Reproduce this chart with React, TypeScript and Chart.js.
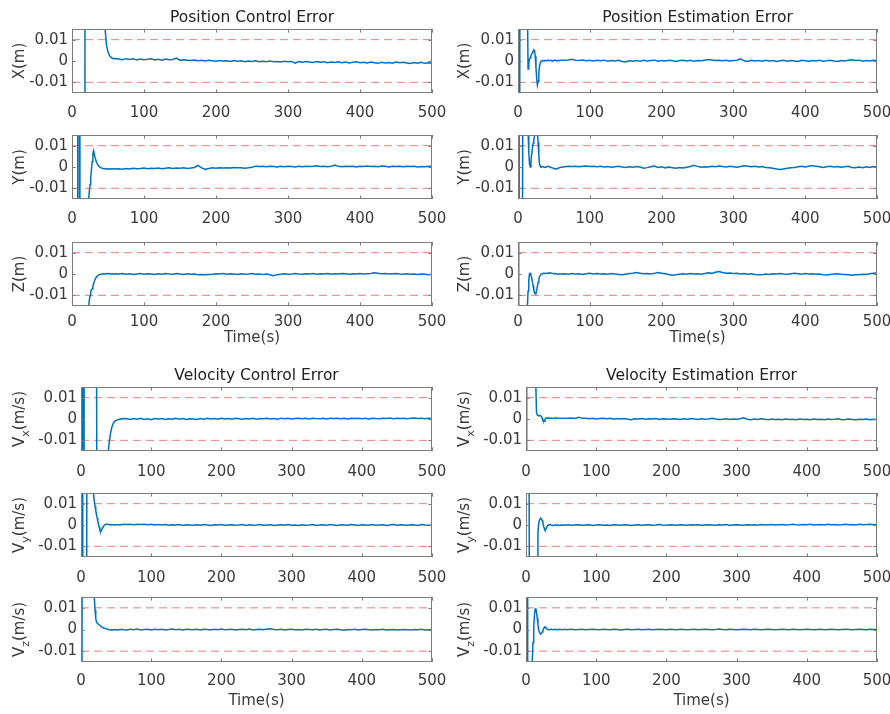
import React, { useEffect, useRef } from "react";
import { Chart, registerables } from "chart.js";

Chart.register(...registerables);

// ---------------- data ----------------
const TIME = [
  0, 1, 2, 3, 4, 5, 6, 7, 8, 9,
  10, 11, 12, 13, 14, 15, 16, 17, 18, 19,
  20, 21, 22, 23, 24, 25, 26, 27, 28, 29, 30,
  32, 34, 36, 38, 40, 42, 44, 46, 48, 50, 52, 54, 56, 58, 60,
  65, 70, 75, 80, 85, 90, 95, 100, 105, 110,
  115, 120, 125, 130, 135, 140, 145, 150, 155, 160,
  165, 170, 175, 180, 185, 190, 195, 200, 205, 210,
  215, 220, 225, 230, 235, 240, 245, 250, 255, 260,
  265, 270, 275, 280, 285, 290, 295, 300, 305, 310,
  315, 320, 325, 330, 335, 340, 345, 350, 355, 360,
  365, 370, 375, 380, 385, 390, 395, 400, 405, 410,
  415, 420, 425, 430, 435, 440, 445, 450, 455, 460,
  465, 470, 475, 480, 485, 490, 495, 500,
];

const X_TICKS = [0, 100, 200, 300, 400, 500];
const Y_TICKS = [-0.01, 0, 0.01];
const LIMIT_TIMES = [0, 500];
const UPPER_LIMIT = [0.01, 0.01];
const LOWER_LIMIT = [-0.01, -0.01];

const POS_CTRL_X = [
  -0.25, -0.22, -0.2, -0.18, -0.16, -0.14, -0.12, -0.1, -0.09, -0.08,
  -0.07, -0.06, -0.05, -0.04, -0.035, -0.03, -0.025, -0.02, 0.12, 0.11,
  0.1, 0.095, 0.09, 0.085, 0.08, 0.075, 0.07, 0.065, 0.06, 0.055, 0.05,
  0.045, 0.04, 0.036, 0.032, 0.028, 0.024, 0.02, 0.0148, 0.0072, 0.0042, 0.0026, 0.0018, 0.0013, 0.0011, 0.0012,
  0.0009, 0.0006, 0.0011, 0.0007, 0.001, 0.0005, 0.0009, 0.0006, 0.0008, 0.001,
  0.0005, 0.0008, 0.0004, 0.0009, 0.0006, 0.0007, 0.0014, 0.0003, 0.0006, 0.0004,
  0.0002, 0.0005, 0.0001, 0.0004, 0.0, 0.0003, 0.0001, -0.0001, 0.0002, 0.0,
  0.0001, -0.0002, 0.0002, -0.0001, 0.0001, -0.0003, 0.0, -0.0002, 0.0001, -0.0003,
  -0.0001, -0.0004, 0.0, -0.0003, -0.0002, -0.0005, -0.0001, -0.0004, -0.0002, -0.001,
  -0.0003, -0.0006, -0.0002, -0.0005, -0.0007, -0.0003, -0.0006, -0.0004, -0.0008, -0.0005,
  -0.0007, -0.0004, -0.0008, -0.0005, -0.0009, -0.0006, -0.0004, -0.0008, -0.0006, -0.0009,
  -0.0005, -0.0008, -0.0011, -0.0006, -0.0009, -0.0007, -0.001, -0.0005, -0.0008, -0.0006,
  -0.0009, -0.0012, -0.0007, -0.001, -0.0006, -0.0011, -0.0008, -0.001,
];

const POS_EST_X = [
  -0.3, 0.3, -0.2, 0.2, 0.18, 0.15, 0.12, 0.1, 0.08, 0.065,
  0.05, 0.04, 0.035, 0.03, -0.0038, -0.001, 0.0008, 0.0016, 0.0024, 0.0031,
  0.0038, 0.0045, 0.0052, 0.005, 0.0022, -0.003, -0.008, -0.0112, -0.0095, -0.0055, -0.0022,
  0.0, 0.0002, -0.0001, 0.0003, 0.0, 0.0004, 0.0001, 0.0003, -0.0001, 0.0002, 0.0004, 0.0, 0.0003, 0.0001, 0.0004,
  0.0003, 0.0005, 0.0008, 0.0004, 0.0002, 0.0005, 0.0001, 0.0004, 0.0, 0.0003,
  0.0001, 0.0004, -0.0001, 0.0002, 0.0, 0.0003, -0.0002, -0.0005, 0.0001, -0.0001,
  0.0002, -0.0001, 0.0003, 0.0, 0.0002, 0.0004, -0.0001, 0.0002, 0.0, 0.0003,
  0.0001, -0.0002, 0.0002, 0.0004, 0.0, 0.0003, -0.0001, 0.0002, 0.0001, 0.0004,
  0.0007, 0.0005, 0.0002, 0.0004, 0.0001, 0.0003, 0.0, 0.0002, 0.0004, 0.001,
  0.0001, -0.0002, 0.0003, 0.0, 0.0002, -0.0001, 0.0003, 0.0, 0.0002, -0.0002,
  0.0001, 0.0003, -0.0001, 0.0002, 0.0, -0.0002, 0.0003, 0.0001, -0.0001, 0.0002,
  0.0, 0.0003, -0.0001, 0.0001, 0.0004, 0.0, -0.0002, 0.0002, 0.0, 0.0003,
  0.0006, 0.0002, 0.0004, -0.0001, 0.0002, 0.0, 0.0003, 0.0001,
];

const POS_CTRL_Y = [
  -0.2, -0.19, -0.18, -0.17, -0.16, -0.15, -0.14, -0.13, 0.1, 0.09,
  0.08, -0.1, -0.09, -0.08, -0.07, -0.062, -0.055, -0.048, -0.042, -0.036,
  -0.031, -0.026, -0.021, -0.0152, -0.0118, -0.0083, -0.0048, -0.0013, 0.0025, 0.0062, 0.0076,
  0.0045, 0.0022, 0.0009, 0.0002, -0.0003, -0.0006, -0.0008, -0.0007, -0.0009, -0.0008, -0.001, -0.0008, -0.0009, -0.0007, -0.0009,
  -0.0008, -0.001, -0.0007, -0.0009, -0.0006, -0.0008, -0.0007, -0.0005, -0.0008, -0.0006,
  -0.0007, -0.0005, -0.0008, -0.0006, -0.0004, -0.0007, -0.0005, -0.0006, -0.0004, -0.0007,
  -0.0005, -0.0002, 0.0008, -0.0004, -0.0011, -0.0007, -0.0004, -0.0006, -0.0003, -0.0005,
  -0.0003, -0.0005, -0.0002, -0.0004, -0.0003, -0.0006, -0.0004, -0.0001, 0.0004, 0.0002,
  0.0003, 0.0001, 0.0004, 0.0002, 0.0, 0.0003, 0.0001, 0.0004, 0.0002, 0.0,
  0.0003, 0.0001, 0.0004, 0.0002, 0.0003, 0.0006, 0.0002, 0.0004, 0.0001, 0.0003,
  0.0009, 0.0003, 0.0001, 0.0004, 0.0002, 0.0003, 0.0, 0.0004, 0.0002, 0.0005,
  0.0002, 0.0004, 0.0001, 0.0005, 0.0003, 0.0, 0.0004, 0.0002, 0.0003, 0.0001,
  0.0003, 0.0002, 0.0004, 0.0, 0.0002, 0.0001, 0.0004, 0.0002,
];

const POS_EST_Y = [
  -0.3, 0.3, -0.2, -0.15, -0.12, -0.1, -0.07, 0.1, 0.09, 0.08,
  0.07, 0.06, 0.045, 0.03, 0.017, 0.007, 0.0015, 0.0, 0.003, 0.0058,
  0.0085, 0.011, 0.013, 0.0145, 0.0165, 0.018, 0.0175, 0.0158, 0.0115, 0.0055, 0.0012,
  -0.0001, 0.0002, 0.0, -0.0002, 0.0001, 0.0003, 0.0001, -0.0002, -0.0004, -0.0007, -0.0008, -0.0009, -0.0006, -0.0003, -0.0001,
  0.0001, 0.0003, 0.0002, 0.0004, 0.0001, 0.0003, 0.0005, 0.0002, 0.0004, 0.0001,
  0.0003, 0.0, 0.0002, -0.0001, 0.0001, 0.0003, 0.0, -0.0002, 0.0001, -0.0001,
  0.0002, 0.0, -0.0006, -0.0003, 0.0001, 0.0004, -0.0002, 0.0001, -0.0004, 0.0,
  -0.0003, -0.0006, -0.0002, -0.0005, -0.0001, 0.0002, 0.0008, 0.0003, -0.0001, 0.0001,
  0.0, 0.0003, 0.0001, 0.0005, 0.0002, 0.0, 0.0003, 0.0001, -0.0001, 0.0002,
  0.0006, 0.0003, 0.0001, 0.0004, 0.0, 0.0002, -0.0002, -0.0004, -0.0006, -0.0009,
  -0.0012, -0.0009, -0.0006, -0.0004, -0.0002, 0.0001, 0.0003, 0.0, 0.0004, 0.0007,
  0.0003, 0.0001, -0.0002, 0.0001, 0.0003, 0.0, 0.0002, -0.0001, 0.0001, 0.0003,
  -0.0002, -0.0004, 0.0, -0.0003, 0.0001, -0.0002, 0.0002, -0.0001,
];

const POS_CTRL_Z = [
  -0.5, -0.45, -0.4, -0.35, -0.3, -0.26, -0.22, -0.19, -0.16, -0.13,
  -0.11, -0.09, -0.075, -0.062, -0.052, -0.044, -0.037, -0.031, -0.027, -0.024,
  -0.021, -0.019, -0.0175, -0.016, -0.0125, -0.0102, -0.0085, -0.0073, -0.007, -0.0058, -0.0045,
  -0.0025, -0.0014, -0.0007, -0.0003, -0.0001, 0.0, 0.0001, 0.0, 0.0002, 0.0001, 0.0002, 0.0, 0.0001, -0.0001, 0.0001,
  0.0, 0.0002, -0.0001, 0.0001, -0.0002, 0.0, 0.0002, -0.0001, 0.0001, 0.0,
  -0.0002, 0.0001, -0.0001, 0.0002, 0.0, -0.0001, 0.0002, 0.0, -0.0002, 0.0001,
  -0.0001, 0.0, -0.0003, -0.0002, -0.0004, -0.0002, -0.0001, 0.0001, 0.0, 0.0002,
  -0.0001, 0.0001, 0.0, -0.0002, 0.0001, -0.0001, 0.0, 0.0002, -0.0001, 0.0,
  -0.0002, 0.0, -0.0004, -0.0008, -0.0003, -0.0001, 0.0001, -0.0001, 0.0, 0.0002,
  0.0, -0.0001, 0.0001, 0.0, 0.0002, -0.0001, 0.0001, 0.0, 0.0002, -0.0001,
  0.0001, 0.0, 0.0002, 0.0001, -0.0001, 0.0001, 0.0, 0.0002, 0.0, 0.0001,
  0.0002, 0.0006, 0.0003, 0.0001, 0.0002, 0.0, 0.0001, 0.0002, 0.0, -0.0001,
  0.0001, -0.0001, 0.0, -0.0002, 0.0, -0.0001, -0.0003, -0.0001,
];

const POS_EST_Z = [
  0.3, -0.3, -0.25, -0.2, -0.16, -0.13, -0.1, -0.08, -0.06, -0.045,
  -0.035, -0.027, -0.021, -0.016, -0.008, -0.003, 0.0001, 0.0003, -0.0005, -0.0018,
  -0.0035, -0.0055, -0.0074, -0.0088, -0.0094, -0.009, -0.0076, -0.0058, -0.004, -0.0025, -0.0013,
  -0.0002, 0.0001, 0.0003, 0.0002, 0.0004, 0.0003, 0.0006, 0.0005, 0.0003, 0.0001, 0.0002, 0.0, -0.0001, 0.0001, 0.0,
  0.0001, -0.0001, 0.0002, 0.0, 0.0001, -0.0002, 0.0001, 0.0003, 0.0, 0.0002,
  0.0, 0.0001, -0.0001, 0.0002, 0.0, -0.0002, -0.0004, -0.0001, 0.0002, 0.0004,
  0.0007, 0.0004, 0.0001, 0.0002, 0.0, 0.0003, 0.0007, 0.0004, 0.0001, -0.0002,
  -0.0006, -0.0004, -0.0001, 0.0001, -0.0001, 0.0002, 0.0, 0.0001, -0.0001, 0.0002,
  0.0006, 0.0003, 0.0008, 0.0012, 0.0007, 0.0004, 0.0005, 0.0002, 0.0003, 0.0,
  0.0002, -0.0001, 0.0001, -0.0002, -0.0004, -0.0003, 0.0, -0.0002, 0.0001, 0.0,
  0.0002, 0.0, -0.0001, 0.0001, 0.0003, 0.0001, -0.0001, 0.0002, 0.0, 0.0001,
  -0.0001, 0.0, -0.0003, -0.0005, -0.0002, 0.0, 0.0001, -0.0001, -0.0002, -0.0004,
  -0.0006, -0.0003, -0.0004, -0.0001, -0.0002, 0.0001, 0.0004, 0.0005,
];

const VEL_CTRL_X = [
  0.3, -0.3, 0.2, -0.2, -0.15, 0.2, 0.19, 0.18, 0.17, 0.16,
  0.15, 0.14, 0.13, 0.12, 0.11, 0.1, 0.09, 0.08, 0.07, 0.065,
  0.06, 0.055, 0.05, -0.1, -0.09, -0.08, -0.07, -0.062, -0.055, -0.048, -0.042,
  -0.035, -0.029, -0.023, -0.018, -0.0115, -0.0068, -0.0038, -0.002, -0.0011, -0.0006, -0.0003, -0.0002, 0.0001, -0.0001, 0.0002,
  0.0001, -0.0002, 0.0002, -0.0001, 0.0003, -0.0002, 0.0001, -0.0003, 0.0002, 0.0,
  0.0002, -0.0002, 0.0001, -0.0001, 0.0003, -0.0001, 0.0002, -0.0002, 0.0001, 0.0,
  -0.0002, 0.0002, -0.0001, 0.0003, 0.0, 0.0002, -0.0001, 0.0003, 0.0, 0.0002,
  -0.0001, 0.0003, 0.0001, -0.0001, 0.0002, 0.0, 0.0003, -0.0001, 0.0002, 0.0001,
  0.0003, 0.0, 0.0002, -0.0001, 0.0004, 0.0001, 0.0003, 0.0, 0.0002, 0.0004,
  0.0001, 0.0003, 0.0, 0.0004, 0.0002, 0.0001, 0.0003, 0.0, 0.0004, 0.0002,
  0.0003, 0.0001, 0.0004, 0.0, 0.0003, 0.0002, 0.0004, 0.0001, 0.0003, 0.0,
  0.0004, 0.0002, 0.0001, 0.0004, 0.0002, 0.0005, 0.0001, 0.0003, 0.0002, 0.0004,
  0.0001, 0.0003, 0.0005, 0.0002, 0.0004, 0.0001, 0.0003, 0.0002,
];

const VEL_EST_X = [
  -0.2, 0.3, 0.25, 0.2, 0.17, 0.15, 0.13, 0.11, 0.09, 0.075,
  0.06, 0.05, 0.04, 0.03, 0.016, 0.003, 0.0019, 0.0017, 0.0016, 0.0015,
  0.0016, 0.0014, 0.0012, 0.0004, -0.0006, -0.0011, -0.001, -0.0003, 0.0003, 0.0005, 0.0004,
  0.0006, 0.0003, 0.0005, 0.0002, 0.0004, 0.0006, 0.0003, 0.0005, 0.0002, 0.0004, 0.0003, 0.0005, 0.0002, 0.0004, 0.0003,
  0.0005, 0.0002, 0.0008, 0.0003, 0.0004, 0.0001, 0.0003, 0.0, 0.0002, 0.0003,
  0.0001, 0.0003, -0.0001, 0.0002, 0.0, 0.0002, -0.0001, -0.0003, 0.0001, 0.0,
  0.0002, -0.0001, 0.0001, 0.0, 0.0002, -0.0002, 0.0001, 0.0, -0.0001, 0.0001,
  0.0, -0.0002, 0.0001, -0.0001, 0.0002, 0.0, -0.0002, 0.0001, -0.0001, 0.0,
  0.0003, 0.0, -0.0002, -0.0001, 0.0001, -0.0002, 0.0, -0.0001, 0.0001, 0.0006,
  -0.0001, -0.0003, 0.0, -0.0002, 0.0001, -0.0001, -0.0003, 0.0, -0.0002, -0.0001,
  -0.0003, 0.0, -0.0002, -0.0001, -0.0003, 0.0, -0.0002, -0.0001, -0.0003, 0.0,
  -0.0002, -0.0001, -0.0003, 0.0, -0.0002, -0.0001, 0.0001, -0.0003, -0.0002, 0.0,
  -0.0002, -0.0003, -0.0001, -0.0002, 0.0, -0.0003, -0.0001, -0.0002,
];

const VEL_CTRL_Y = [
  0.3, -0.3, 0.2, -0.2, -0.18, -0.15, -0.12, -0.1, -0.05, 0.2,
  0.15, 0.1, 0.07, 0.05, 0.035, 0.028, 0.022, 0.0175, 0.014, 0.011,
  0.0088, 0.0068, 0.005, 0.0033, 0.0018, 0.0004, -0.0011, -0.0024, -0.0031, -0.0026, -0.0018,
  -0.0006, 0.0001, 0.0004, 0.0003, 0.0001, 0.0002, 0.0, 0.0002, -0.0001, 0.0001, 0.0002, 0.0, 0.0002, 0.0001, 0.0003,
  0.0002, 0.0004, 0.0001, 0.0003, 0.0002, 0.0004, 0.0001, 0.0003, 0.0, 0.0002,
  0.0, 0.0002, -0.0001, 0.0001, 0.0, 0.0002, -0.0002, 0.0001, 0.0, -0.0001,
  0.0001, -0.0001, 0.0002, 0.0, -0.0002, 0.0001, 0.0, 0.0002, -0.0001, 0.0,
  0.0001, -0.0001, 0.0, 0.0002, -0.0002, 0.0001, -0.0001, 0.0, 0.0002, -0.0001,
  0.0, 0.0001, -0.0002, 0.0, 0.0001, -0.0001, 0.0002, -0.0001, 0.0, -0.0002,
  0.0001, -0.0001, 0.0, 0.0002, -0.0002, 0.0, 0.0001, -0.0001, 0.0002, 0.0,
  -0.0002, 0.0001, 0.0, -0.0001, 0.0002, 0.0, -0.0002, 0.0001, 0.0, -0.0001,
  0.0002, -0.0001, 0.0, 0.0001, -0.0002, 0.0, 0.0002, -0.0001, 0.0001, 0.0,
  -0.0001, 0.0001, 0.0, -0.0002, 0.0002, 0.0, -0.0001, 0.0,
];

const VEL_EST_Y = [
  0.3, 0.25, 0.2, 0.2, 0.2, -0.05, -0.1, -0.09, -0.08, -0.07,
  -0.06, -0.05, -0.04, -0.033, -0.027, -0.021, -0.016, -0.004, 0.0005, 0.002,
  0.0028, 0.0031, 0.003, 0.0022, 0.001, -0.0004, -0.0016, -0.0023, -0.0022, -0.0014, -0.0007,
  0.0, 0.0002, 0.0, -0.0002, -0.0001, 0.0001, -0.0001, 0.0, -0.0002, 0.0, -0.0001, 0.0001, -0.0001, 0.0, 0.0001,
  -0.0001, 0.0, 0.0001, -0.0001, 0.0, 0.0001, -0.0002, 0.0, 0.0001, -0.0001,
  0.0, -0.0002, 0.0001, 0.0, -0.0001, 0.0001, 0.0, -0.0002, 0.0, 0.0001,
  -0.0001, 0.0, 0.0001, -0.0001, 0.0, 0.0002, 0.0, -0.0001, 0.0001, 0.0,
  -0.0001, 0.0001, 0.0, -0.0001, 0.0001, 0.0, 0.0001, -0.0001, 0.0, 0.0001,
  0.0, -0.0001, 0.0001, 0.0, 0.0002, -0.0001, 0.0, 0.0001, 0.0, -0.0001,
  0.0001, 0.0, 0.0001, -0.0001, 0.0002, 0.0, 0.0001, 0.0002, 0.0, 0.0001,
  0.0002, 0.0, 0.0001, 0.0003, 0.0001, 0.0, 0.0002, 0.0001, 0.0003, 0.0,
  0.0001, 0.0002, 0.0, 0.0003, 0.0001, 0.0002, 0.0, 0.0001, 0.0003, 0.0001,
  0.0002, 0.0, 0.0003, 0.0001, 0.0002, 0.0004, 0.0001, 0.0002,
];

const VEL_CTRL_Z = [
  0.3, -0.3, 0.3, 0.25, 0.2, 0.17, 0.14, 0.12, 0.1, 0.085,
  0.07, 0.06, 0.05, 0.042, 0.035, 0.029, 0.024, 0.02, 0.017, 0.0145,
  0.009, 0.0052, 0.0036, 0.003, 0.0027, 0.0024, 0.0021, 0.0019, 0.0016, 0.0013, 0.0011,
  0.0008, 0.0005, 0.0003, 0.0001, -0.0001, -0.0002, -0.0001, -0.0002, 0.0, -0.0001, -0.0002, 0.0, -0.0001, 0.0001, -0.0001,
  -0.0002, 0.0001, -0.0001, 0.0002, -0.0002, 0.0, 0.0001, -0.0002, 0.0001, -0.0001,
  0.0001, -0.0002, 0.0, 0.0002, -0.0001, 0.0001, -0.0002, 0.0001, 0.0, -0.0001,
  0.0001, -0.0002, 0.0001, 0.0, -0.0002, 0.0001, -0.0001, 0.0002, -0.0001, 0.0,
  0.0001, -0.0002, 0.0, 0.0001, -0.0001, 0.0002, -0.0002, 0.0, 0.0001, -0.0001,
  0.0002, 0.0003, 0.0, -0.0001, 0.0001, -0.0002, 0.0, 0.0001, -0.0001, 0.0,
  -0.0002, 0.0001, 0.0, -0.0001, 0.0001, -0.0002, 0.0, 0.0001, -0.0002, 0.0,
  0.0001, -0.0001, -0.0003, 0.0, -0.0001, 0.0001, -0.0002, 0.0, 0.0001, -0.0001,
  -0.0002, 0.0, -0.0001, 0.0001, -0.0002, -0.0001, 0.0, -0.0002, -0.0001, 0.0,
  -0.0001, -0.0002, 0.0, -0.0001, 0.0001, -0.0002, -0.0001, 0.0,
];

const VEL_EST_Z = [
  0.3, -0.3, 0.2, -0.3, -0.2, -0.13, -0.08, -0.045, -0.024, -0.014,
  -0.006, 0.001, 0.0065, 0.0095, 0.0097, 0.008, 0.0052, 0.0022, 0.0, -0.0013,
  -0.0018, -0.0019, -0.0017, -0.0012, -0.0005, 0.0003, 0.0009, 0.0012, 0.0011, 0.0006, 0.0002,
  -0.0001, 0.0, 0.0001, -0.0001, 0.0, 0.0001, -0.0001, 0.0, 0.0001, 0.0, -0.0001, 0.0001, 0.0, -0.0001, 0.0,
  0.0001, -0.0001, 0.0, 0.0001, -0.0001, 0.0, 0.0001, 0.0, -0.0001, 0.0001,
  0.0, -0.0001, 0.0001, 0.0, -0.0002, 0.0, 0.0001, -0.0001, 0.0, 0.0001,
  -0.0001, 0.0, 0.0001, -0.0001, 0.0, 0.0001, 0.0, -0.0001, 0.0001, 0.0,
  -0.0001, 0.0001, 0.0, -0.0001, 0.0, 0.0001, -0.0001, 0.0, 0.0001, 0.0,
  -0.0001, 0.0, 0.0002, 0.0, -0.0001, 0.0001, 0.0, -0.0001, 0.0, 0.0001,
  0.0, -0.0001, 0.0001, 0.0, -0.0001, 0.0, 0.0001, 0.0, -0.0001, 0.0,
  0.0001, 0.0, -0.0001, 0.0001, 0.0, -0.0001, 0.0, 0.0001, 0.0, -0.0001,
  0.0, 0.0001, -0.0001, 0.0, 0.0001, 0.0, -0.0001, 0.0, 0.0001, 0.0,
  -0.0001, 0.0, 0.0001, 0.0, -0.0001, 0.0001, 0.0, 0.0001,
];

// ---------------- styling / layout ----------------
const FONT_FAMILY = "'DejaVu Sans', 'Liberation Sans', Arial, sans-serif";
const TEXT_COLOR = "#3a3a3a";
const TITLE_COLOR = "#222222";
const FRAME_COLOR = "#7c7c7c";
const LINE_COLOR = "#0072BD";
const LIMIT_COLOR = "rgba(235, 60, 60, 0.68)";
const TOP_PAD = 29;
const BOTTOM_PAD = 48;
const Y_MIN = -0.015;
const Y_MAX = 0.015;

type Panel = {
  key: string;
  values: number[];
  title?: string;
  labelMain: string;
  labelSub: string;
  labelUnit: string;
  canvasLeft: number;
  canvasWidth: number;
  plotLeft: number;
  plotTop: number;
  plotRight: number;
  plotBottom: number;
  tickPad: number;
  xTitleGap?: number;
};

const rows = [
  { top: 29, bottom: 93, tickPad: 11 },
  { top: 135, bottom: 199, tickPad: 11 },
  { top: 242, bottom: 306, tickPad: 7.5, xTitleGap: 32 },
  { top: 387, bottom: 451, tickPad: 12.5 },
  { top: 493, bottom: 557, tickPad: 12 },
  { top: 597, bottom: 662, tickPad: 10.5, xTitleGap: 39 },
];

function mk(
  key: string,
  values: number[],
  row: number,
  col: number,
  labelMain: string,
  labelSub: string,
  labelUnit: string,
  title?: string
): Panel {
  const r = rows[row];
  const vel = row >= 3;
  const plotLeft = col === 0 ? (vel ? 81 : 72) : vel ? 526 : 518;
  const plotRight = col === 0 ? 432 : 877;
  return {
    key,
    values,
    title,
    labelMain,
    labelSub,
    labelUnit,
    canvasLeft: col === 0 ? 0 : 445,
    canvasWidth: col === 0 ? 462 : 445,
    plotLeft,
    plotTop: r.top,
    plotRight,
    plotBottom: r.bottom,
    tickPad: r.tickPad,
    xTitleGap: r.xTitleGap,
  };
}

const PANELS: Panel[] = [
  mk("pcx", POS_CTRL_X, 0, 0, "X", "", "(m)", "Position Control Error"),
  mk("pex", POS_EST_X, 0, 1, "X", "", "(m)", "Position Estimation Error"),
  mk("pcy", POS_CTRL_Y, 1, 0, "Y", "", "(m)"),
  mk("pey", POS_EST_Y, 1, 1, "Y", "", "(m)"),
  mk("pcz", POS_CTRL_Z, 2, 0, "Z", "", "(m)"),
  mk("pez", POS_EST_Z, 2, 1, "Z", "", "(m)"),
  mk("vcx", VEL_CTRL_X, 3, 0, "V", "x", "(m/s)", "Velocity Control Error"),
  mk("vex", VEL_EST_X, 3, 1, "V", "x", "(m/s)", "Velocity Estimation Error"),
  mk("vcy", VEL_CTRL_Y, 4, 0, "V", "y", "(m/s)"),
  mk("vey", VEL_EST_Y, 4, 1, "V", "y", "(m/s)"),
  mk("vcz", VEL_CTRL_Z, 5, 0, "V", "z", "(m/s)"),
  mk("vez", VEL_EST_Z, 5, 1, "V", "z", "(m/s)"),
];

function makeFramePlugin(p: Panel) {
  return {
    id: "matlabFrame_" + p.key,
    afterDraw(chart: any) {
      const ctx: CanvasRenderingContext2D = chart.ctx;
      const a = chart.chartArea;
      const xs = chart.scales.x;
      const ys = chart.scales.y;
      ctx.save();
      // box
      ctx.strokeStyle = FRAME_COLOR;
      ctx.lineWidth = 1;
      ctx.strokeRect(a.left + 0.5, a.top + 0.5, a.right - a.left - 1, a.bottom - a.top - 1);
      // inner tick marks
      const tl = 3.6;
      ctx.beginPath();
      X_TICKS.forEach((v) => {
        const px = Math.round(xs.getPixelForValue(v)) + 0.5;
        ctx.moveTo(px, a.bottom);
        ctx.lineTo(px, a.bottom - tl);
        ctx.moveTo(px, a.top);
        ctx.lineTo(px, a.top + tl);
      });
      Y_TICKS.forEach((v) => {
        const py = Math.round(ys.getPixelForValue(v)) + 0.5;
        ctx.moveTo(a.left, py);
        ctx.lineTo(a.left + tl, py);
        ctx.moveTo(a.right, py);
        ctx.lineTo(a.right - tl, py);
      });
      ctx.stroke();

      const cx = (a.left + a.right) / 2;
      // title
      if (p.title) {
        ctx.fillStyle = TITLE_COLOR;
        ctx.font = `15.5px ${FONT_FAMILY}`;
        ctx.textAlign = "center";
        ctx.textBaseline = "middle";
        ctx.fillText(p.title, cx, a.top - 11.5);
      }
      // x title
      if (p.xTitleGap) {
        ctx.fillStyle = TEXT_COLOR;
        ctx.font = `15px ${FONT_FAMILY}`;
        ctx.textAlign = "center";
        ctx.textBaseline = "middle";
        ctx.fillText("Time(s)", cx, a.bottom + p.xTitleGap);
      }
      // y label (rotated, with optional subscript)
      const cy = (a.top + a.bottom) / 2;
      ctx.translate(20.5, cy);
      ctx.rotate(-Math.PI / 2);
      ctx.fillStyle = TEXT_COLOR;
      ctx.textBaseline = "middle";
      ctx.textAlign = "left";
      const mainFont = `15px ${FONT_FAMILY}`;
      const subFont = `11px ${FONT_FAMILY}`;
      ctx.font = mainFont;
      const wm = ctx.measureText(p.labelMain).width;
      const wu = ctx.measureText(p.labelUnit).width;
      ctx.font = subFont;
      const ws = p.labelSub ? ctx.measureText(p.labelSub).width : 0;
      const start = -(wm + ws + wu) / 2;
      ctx.font = mainFont;
      ctx.fillText(p.labelMain, start, 0);
      if (p.labelSub) {
        ctx.font = subFont;
        ctx.fillText(p.labelSub, start + wm, 5.5);
      }
      ctx.font = mainFont;
      ctx.fillText(p.labelUnit, start + wm + ws, 0);
      ctx.restore();
    },
  };
}

function PanelChart({ p }: { p: Panel }) {
  const ref = useRef<HTMLCanvasElement | null>(null);
  const height = TOP_PAD + (p.plotBottom - p.plotTop) + BOTTOM_PAD;
  const yAxisWidth = p.plotLeft - p.canvasLeft;
  const rightPad = p.canvasLeft + p.canvasWidth - p.plotRight;

  useEffect(() => {
    const canvas = ref.current;
    if (!canvas) return;
    const tickFont = { family: FONT_FAMILY, size: 15 };
    const chart = new Chart(canvas, {
      type: "line",
      data: {
        datasets: [
          {
            data: TIME.map((t, i) => ({ x: t, y: p.values[i] })),
            borderColor: LINE_COLOR,
            borderWidth: 1.5,
            pointRadius: 0,
            tension: 0,
            fill: false,
          },
          {
            data: LIMIT_TIMES.map((t, i) => ({ x: t, y: UPPER_LIMIT[i] })),
            borderColor: LIMIT_COLOR,
            borderWidth: 1,
            borderDash: [8, 5],
            pointRadius: 0,
            fill: false,
          },
          {
            data: LIMIT_TIMES.map((t, i) => ({ x: t, y: LOWER_LIMIT[i] })),
            borderColor: LIMIT_COLOR,
            borderWidth: 1,
            borderDash: [8, 5],
            pointRadius: 0,
            fill: false,
          },
        ],
      },
      options: {
        responsive: false,
        maintainAspectRatio: false,
        animation: false,
        events: [],
        layout: { padding: { top: TOP_PAD, right: rightPad, left: 0, bottom: 0 } },
        plugins: {
          legend: { display: false },
          tooltip: { enabled: false },
          title: { display: false },
        },
        scales: {
          x: {
            type: "linear",
            min: 0,
            max: 500,
            grid: { display: false, drawTicks: false },
            border: { display: false },
            afterBuildTicks: (s: any) => {
              s.ticks = X_TICKS.map((v) => ({ value: v }));
            },
            afterFit: (s: any) => {
              s.height = BOTTOM_PAD;
              s.paddingLeft = 0;
              s.paddingRight = 0;
            },
            ticks: {
              font: tickFont,
              color: TEXT_COLOR,
              padding: p.tickPad,
              maxRotation: 0,
              autoSkip: false,
              callback: (v: any) => String(v),
            },
          },
          y: {
            type: "linear",
            min: Y_MIN,
            max: Y_MAX,
            grid: { display: false, drawTicks: false },
            border: { display: false },
            afterBuildTicks: (s: any) => {
              s.ticks = Y_TICKS.map((v) => ({ value: v }));
            },
            afterFit: (s: any) => {
              s.width = yAxisWidth;
              s.paddingTop = 0;
              s.paddingBottom = 0;
            },
            ticks: {
              font: tickFont,
              color: TEXT_COLOR,
              padding: 4,
              autoSkip: false,
              callback: (v: any) => String(v),
            },
          },
        },
      } as any,
      plugins: [makeFramePlugin(p)],
    });
    return () => chart.destroy();
  }, [p]);

  return (
    <canvas
      ref={ref}
      width={p.canvasWidth}
      height={height}
      style={{
        position: "absolute",
        left: p.canvasLeft,
        top: p.plotTop - TOP_PAD,
        width: p.canvasWidth,
        height,
        display: "block",
      }}
    />
  );
}

export default function App() {
  return (
    <div
      style={{
        position: "absolute",
        left: 0,
        top: 0,
        width: 890,
        height: 714,
        background: "#ffffff",
        overflow: "hidden",
      }}
    >
      {PANELS.map((p) => (
        <PanelChart key={p.key} p={p} />
      ))}
    </div>
  );
}
